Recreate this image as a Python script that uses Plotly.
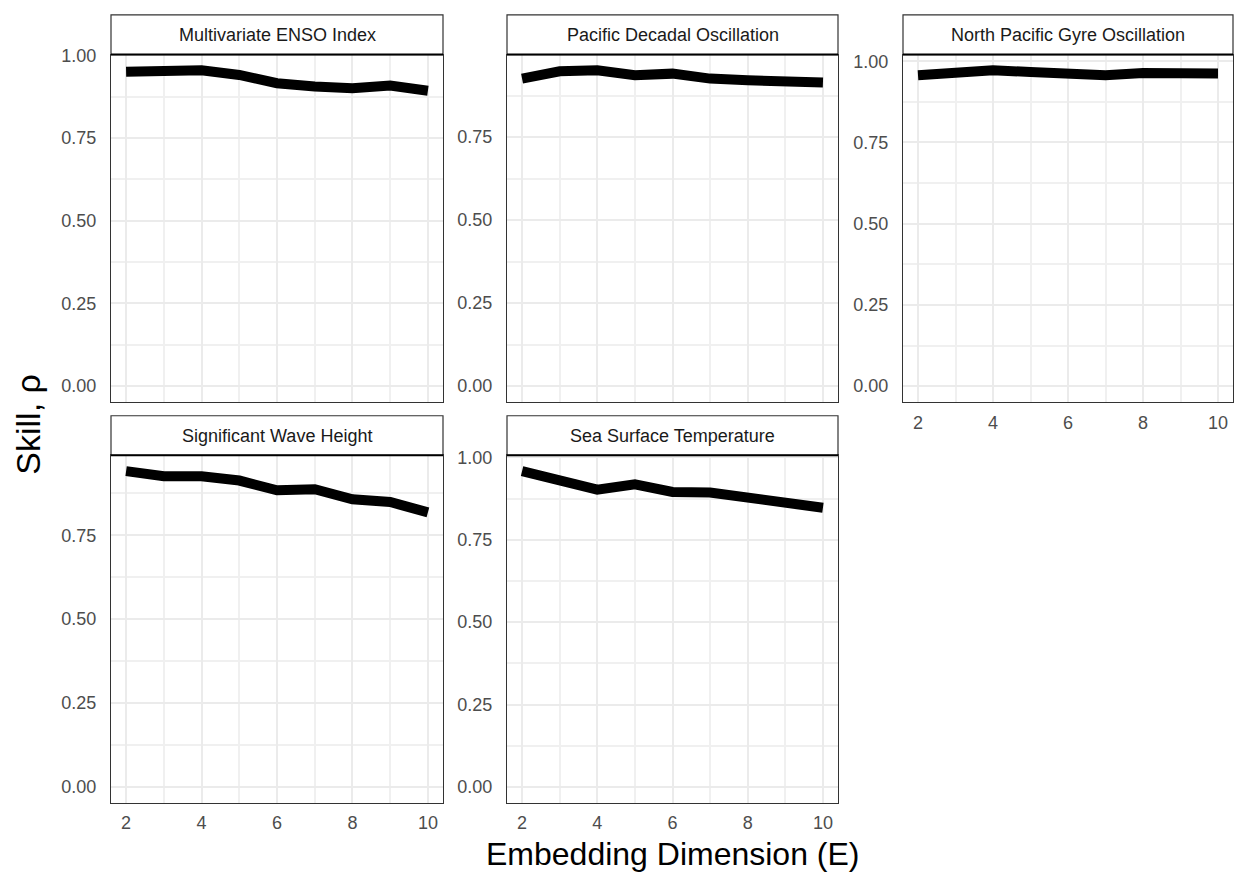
import plotly.graph_objects as go

# Embedding dimensions tested
E = [2, 3, 4, 5, 6, 7, 8, 9, 10]

# Forecast skill (rho) per index
mei = [0.951, 0.953, 0.955, 0.941, 0.916, 0.906, 0.901, 0.909, 0.893]
pdo = [0.926, 0.948, 0.951, 0.936, 0.941, 0.926, 0.921, 0.921, 0.914]
npgo = [0.957, 0.967, 0.972, 0.967, 0.960, 0.957, 0.964, 0.962, 0.962]
swh = [0.941, 0.926, 0.926, 0.913, 0.884, 0.887, 0.857, 0.849, 0.818]
sst = [0.958, 0.933, 0.902, 0.918, 0.895, 0.893, 0.877, 0.860, 0.847]

titles = ["Multivariate ENSO Index", "Pacific Decadal Oscillation",
          "North Pacific Gyre Oscillation", "Significant Wave Height",
          "Sea Surface Temperature"]
series = [mei, pdo, npgo, swh, sst]

W, H = 1242, 875
FONT = "Liberation Sans, Arial, sans-serif"

# facet geometry in pixels: (left, right) per column, (strip top, panel top, panel bottom) per row
cols = [(111, 443), (507, 838), (903, 1233)]
rows = [(6, 46, 397), (411, 451, 802)]
cells = [(0, 0), (0, 1), (0, 2), (1, 0), (1, 1)]
show_x_labels = [False, False, True, True, True]

fig = go.Figure()
shapes = []
annotations = []

for i, (vals, title, (r, c), showx) in enumerate(zip(series, titles, cells, show_x_labels)):
    n = "" if i == 0 else str(i + 1)
    x0, x1 = cols[c]
    st, pt, pb = rows[r]
    fig.add_trace(go.Scatter(
        x=E, y=vals, mode="lines",
        line=dict(color="black", width=10),
        xaxis="x" + n, yaxis="y" + n, showlegend=False,
    ))
    # free y scale with 5% padding, always including zero
    top = max(vals)
    lo, hi = -0.05 * top, top * 1.05
    grid = dict(gridcolor="#EBEBEB", gridwidth=2)
    fig.layout["xaxis" + n] = dict(
        domain=[x0 / W, x1 / W], anchor="y" + n,
        range=[1.6, 10.4], tickmode="linear", tick0=2, dtick=2,
        showticklabels=showx, ticklabelstandoff=4,
        tickfont=dict(family=FONT, size=18, color="#4D4D4D"),
        showline=True, linecolor="#333333", linewidth=1.2, mirror=True,
        zeroline=False, **grid,
        minor=dict(dtick=1, tick0=2, showgrid=True, gridcolor="#F0F0F0", gridwidth=1.5),
    )
    fig.layout["yaxis" + n] = dict(
        domain=[1 - pb / H, 1 - pt / H], anchor="x" + n,
        range=[lo, hi], tickmode="linear", tick0=0, dtick=0.25,
        tickformat=".2f", ticklabelstandoff=10,
        tickfont=dict(family=FONT, size=18, color="#4D4D4D"),
        showline=True, linecolor="#333333", linewidth=1.2, mirror=True,
        zeroline=False, **grid,
        minor=dict(dtick=0.125, tick0=0, showgrid=True, gridcolor="#F0F0F0", gridwidth=1.5),
    )
    # facet strip
    shapes.append(dict(
        type="rect", xref="paper", yref="paper",
        x0=x0 / W, x1=x1 / W, y0=1 - pt / H, y1=1 - st / H,
        line=dict(color="#333333", width=1.2), fillcolor="white", layer="above",
    ))
    shapes.append(dict(
        type="line", xref="paper", yref="paper",
        x0=x0 / W, x1=x1 / W, y0=1 - pt / H, y1=1 - pt / H,
        line=dict(color="black", width=2), layer="above",
    ))
    annotations.append(dict(
        text=title, xref="paper", yref="paper",
        x=(x0 + x1) / 2 / W, y=1 - (st + pt) / 2 / H,
        xanchor="center", yanchor="middle", showarrow=False,
        font=dict(family=FONT, size=18, color="#1A1A1A"),
    ))

annotations.append(dict(
    text="Embedding Dimension (E)", xref="paper", yref="paper",
    x=673 / W, y=1 - 854 / H, xanchor="center", yanchor="middle",
    showarrow=False, font=dict(family=FONT, size=32, color="black"),
))
annotations.append(dict(
    text="Skill, ρ", xref="paper", yref="paper",
    x=28 / W, y=1 - 420 / H, xanchor="center", yanchor="middle",
    textangle=-90, showarrow=False, font=dict(family=FONT, size=34, color="black"),
))

fig.update_layout(
    width=W, height=H, margin=dict(l=0, r=0, t=0, b=0),
    paper_bgcolor="white", plot_bgcolor="white",
    shapes=shapes, annotations=annotations,
)

fig.write_html("out.html")
